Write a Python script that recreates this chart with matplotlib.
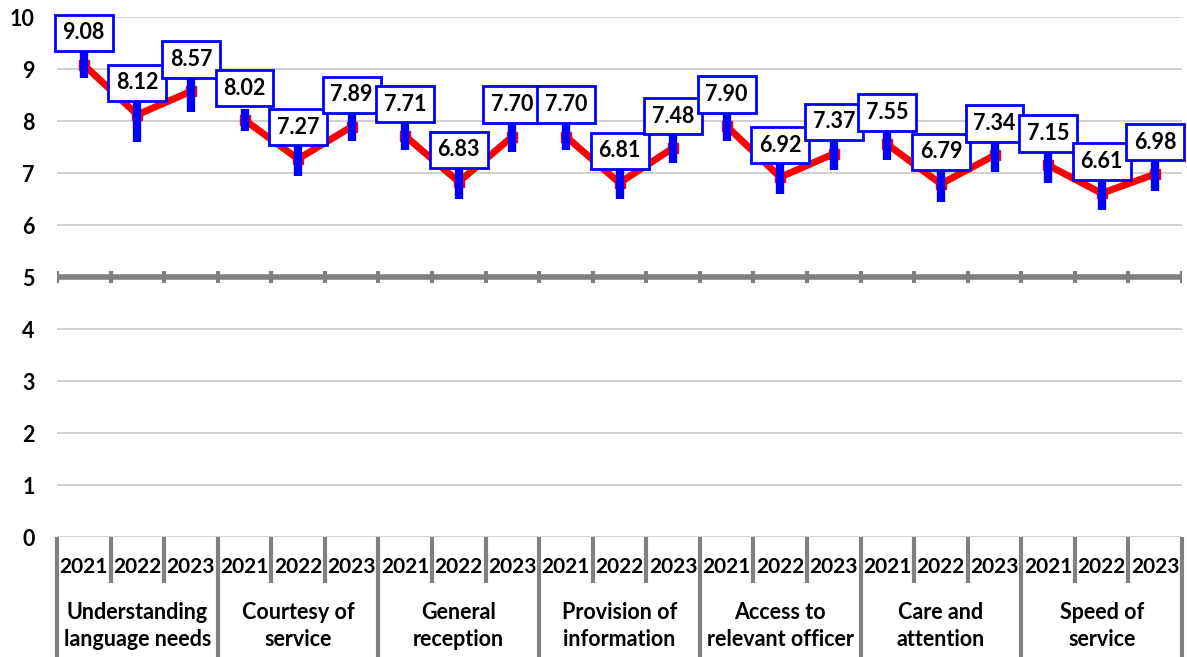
import matplotlib
matplotlib.use("Agg")
import matplotlib.pyplot as plt
from matplotlib.transforms import blended_transform_factory

plt.rcParams['font.family'] = ['Lato', 'DejaVu Sans']

# Service aspects, each rated in three survey years
categories = ["Understanding\nlanguage needs", "Courtesy of\nservice", "General\nreception",
              "Provision of\ninformation", "Access to\nrelevant officer", "Care and\nattention",
              "Speed of\nservice"]
years = ["2021", "2022", "2023"]

# Mean scores per aspect (2021, 2022, 2023)
scores = [
    [9.08, 8.12, 8.57],
    [8.02, 7.27, 7.89],
    [7.71, 6.83, 7.70],
    [7.70, 6.81, 7.48],
    [7.90, 6.92, 7.37],
    [7.55, 6.79, 7.34],
    [7.15, 6.61, 6.98],
]

# Error bar half-widths per aspect and year
errors = [
    [0.25, 0.53, 0.40],
    [0.21, 0.32, 0.27],
    [0.27, 0.33, 0.29],
    [0.26, 0.31, 0.29],
    [0.28, 0.33, 0.31],
    [0.30, 0.35, 0.33],
    [0.35, 0.32, 0.33],
]

W, H = 1187, 657
fig = plt.figure(figsize=(W / 100, H / 100), dpi=100)
left_px, right_px, top_px, bottom_px = 57, 1182, 17, 537
ax = fig.add_axes([left_px / W, 1 - bottom_px / H,
                   (right_px - left_px) / W, (bottom_px - top_px) / H])

n_years = len(years)
n_total = len(categories) * n_years
ax.set_xlim(-0.5, n_total - 0.5)
ax.set_ylim(0, 10)

# horizontal gridlines
for yv in range(0, 11):
    if yv == 5:
        continue
    ax.axhline(yv, color="#C8C8C8", lw=1.2, zorder=0)

# category axis crossing at 5, with tick marks at each slot boundary
ax.axhline(5, color="#808080", lw=4, zorder=1)
for k in range(n_total + 1):
    ax.plot([k - 0.5, k - 0.5], [4.88, 5.12], color="#808080", lw=3,
            solid_capstyle="butt", zorder=1)

for i, (vals, errs) in enumerate(zip(scores, errors)):
    xs = [i * n_years + j for j in range(n_years)]
    ax.plot(xs, vals, color="#FF0000", lw=5, zorder=2, solid_joinstyle="miter")
    ax.plot(xs, vals, linestyle="none", marker="s", markersize=7.5,
            color="#FF0000", zorder=3)
    ax.errorbar(xs, vals, yerr=errs, fmt="none", ecolor="#0000FF",
                elinewidth=6, capsize=0, zorder=4)
    for x, v in zip(xs, vals):
        ax.annotate(f"{v:.2f}", xy=(x, v), xytext=(0, 23), textcoords="offset points",
                    ha="center", va="center", fontsize=15.5, fontweight="bold",
                    color="black", zorder=6,
                    bbox=dict(boxstyle="square,pad=0.36", fc="white",
                              ec="#0000FF", lw=2))

# y axis labels
ax.set_yticks(range(0, 11))
ax.set_yticklabels([str(v) for v in range(0, 11)], fontsize=15.5, fontweight="bold")
ax.tick_params(axis="y", length=0, pad=16)
ax.set_xticks([])
for s in ax.spines.values():
    s.set_visible(False)

# multi-level category labels below the plot
trans = blended_transform_factory(ax.transData, ax.transAxes)
ax_h = bottom_px - top_px
minor_bottom = -(583 - bottom_px) / ax_h
major_bottom = -(H - bottom_px) / ax_h
for k in range(n_total + 1):
    xb = k - 0.5
    yb = major_bottom if k % n_years == 0 else minor_bottom
    ax.plot([xb, xb], [0, yb], transform=trans, color="#808080", lw=3,
            clip_on=False, solid_capstyle="butt", zorder=1)

year_y = -(567 - bottom_px) / ax_h
for i in range(len(categories)):
    for j, yr in enumerate(years):
        ax.text(i * n_years + j, year_y, yr, transform=trans, ha="center",
                va="center", fontsize=15, fontweight="bold")
    ax.text(i * n_years + 1, -(626 - bottom_px) / ax_h, categories[i],
            transform=trans, ha="center", va="center", fontsize=15.5,
            fontweight="bold", linespacing=1.4)

fig.savefig("out.png", dpi=100)
